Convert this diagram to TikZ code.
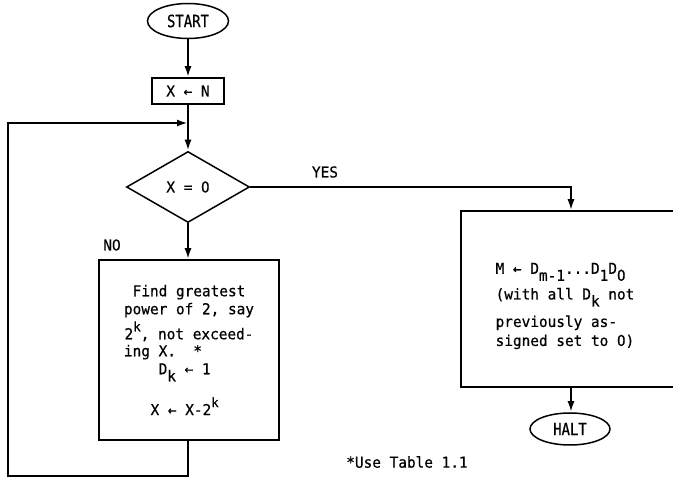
\documentclass[tikz,border=0pt]{standalone}
\usepackage{fontspec}
\setmonofont[FakeStretch=0.96,FakeBold=0.6]{DejaVu Sans Mono}
\newfontfamily\termfont[FakeStretch=0.82,FakeBold=0.6]{DejaVu Sans Mono}
% plain (undotted) zero, same advance as the typewriter digits
\newfontfamily\zerofont[FakeStretch=0.9,FakeBold=0.6]{DejaVu Sans}
\newcommand\zero{{\zerofont 0}}
\usetikzlibrary{shapes.geometric,arrows.meta}
% raised / lowered indices in typewriter style
\newcommand\up[1]{\raisebox{8pt}{\fontsize{13}{15}\selectfont #1}}
\newcommand\dn[1]{\raisebox{-7pt}{#1}}
\begin{document}
\begin{tikzpicture}[x=1pt,y=-1pt,
  every node/.style={font=\ttfamily\fontsize{15}{16}\selectfont, inner sep=0pt},
  outline/.style={draw, line width=1.5pt},
  terminal/.style={outline, ellipse, font=\termfont\fontsize{17}{18}\selectfont},
  process/.style={outline, rectangle},
  decision/.style={outline, diamond, minimum width=123pt, minimum height=71pt},
  flow/.style={line width=2.7pt, line join=miter, -{Latex[length=11pt,width=7pt]}},
  branch/.style={line width=1.9pt, -{Latex[length=11pt,width=7pt]}}
]
\useasboundingbox (0,0) rectangle (673,478);
\clip (0,0) rectangle (673,478);

% nodes
\node[terminal, minimum width=81pt, minimum height=35pt] (start) at (188,21) {START};
\node[process, minimum width=72pt, minimum height=26pt] (init) at (188,91) {X ← N};
\coordinate (merge) at (188,123);
\node[decision] (test) at (188,187) {X = \zero};
\node[process, minimum width=180pt, minimum height=180pt, align=center] (work) at (189,350)
  {Find greatest\\[2pt]
   power of 2, say\\[3pt]
   2\up{k}, not exceed-\\[1pt]
   ing X.~~*\hphantom{xxxxxx}\\[2pt]
   D\dn{k} ← 1\hphantom{x}\\[15pt]
   X ← X-2\up{k}\hphantom{x}};
\node[process, minimum width=220pt, minimum height=176pt] (done) at (571,299) {};
\node[align=left] (donetext) at (565,306)
  {M ← D\dn{m-1}...D\dn{1}D\dn{\zero}\\[6pt]
   (with all D\dn{k} not\\[8pt]
   previously as-\\[3pt]
   signed set to \zero)};
\node[terminal, minimum width=80pt, minimum height=32pt] (halt) at (570,429) {HALT};
\coordinate (loopcorner) at (8,476);

% labels
\node (yes) at (325,172) {YES};
\node (no) at (112,245) {NO};
\node (note) at (407,462) {*Use Table 1.1};

% connectors
\draw[flow] (start) -- (init);
\draw[flow] (init) -- (test);
\draw[flow] (test.south) -- (test.south |- work.north);
\draw[flow] (test.south |- work.south) |- (loopcorner) |- (merge);
\draw[branch] (test.east) -| (done.north);
\draw[flow] (done.south) -- (done.south |- halt.north);
\end{tikzpicture}
\end{document}
